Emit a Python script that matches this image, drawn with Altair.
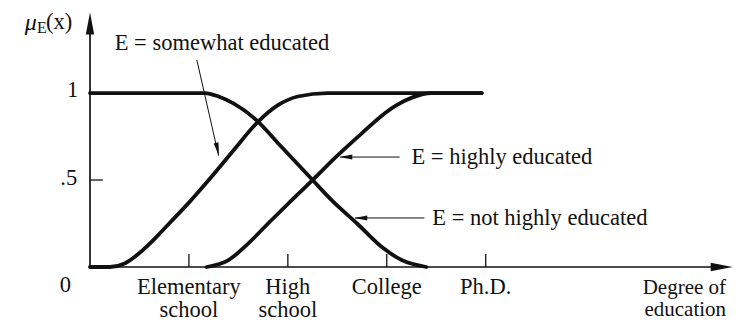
import altair as alt
import pandas as pd

# ---- membership curves (x: degree of education, 1=Elementary ... 4=Ph.D.) ----
SOMEWHAT_X = [0.0, 0.2, 0.35, 0.5, 0.65, 0.8, 1.0, 1.2, 1.45, 1.69, 1.9, 2.1, 2.4, 3.96]
SOMEWHAT_Y = [0.0, 0.0, 0.02, 0.08, 0.16, 0.25, 0.37, 0.5, 0.67, 0.83, 0.93, 0.98, 1.0, 1.0]

HIGHLY_X = [1.18, 1.4, 1.59, 1.8, 2.05, 2.25, 2.5, 2.75, 2.95, 3.1, 3.26, 3.45, 3.96]
HIGHLY_Y = [0.0, 0.04, 0.13, 0.25, 0.39, 0.5, 0.64, 0.77, 0.87, 0.93, 0.975, 1.0, 1.0]

NOT_HIGHLY_X = [0.0, 1.16, 1.3, 1.45, 1.69, 1.92, 2.25, 2.45, 2.7, 2.96, 3.15, 3.4]
NOT_HIGHLY_Y = [1.0, 1.0, 0.98, 0.94, 0.84, 0.70, 0.5, 0.38, 0.25, 0.11, 0.04, 0.0]

# ---- axis ticks and labels ----
X_TICKS = [1, 2, 3, 4]
X_LABEL_LINE1 = ["Elementary", "High", "College", "Ph.D."]
X_LABEL_LINE2 = ["school", "school", "", ""]
Y_TICKS = [0.5]
Y_LABELS = ["1", ".5"]
Y_LABEL_VALUES = [1.02, 0.51]

# ---- annotations ----
ANNOT_TEXT = ["E = somewhat educated", "E = highly educated", "E = not highly educated"]
ANNOT_TEXT_X = [0.25, 3.25, 3.46]
ANNOT_TEXT_Y = [1.29, 0.632, 0.282]
ARROW_START_X = [1.08, 3.13, 3.38]
ARROW_START_Y = [1.19, 0.632, 0.282]
ARROW_TIP_X = [1.30, 2.53, 2.68]
ARROW_TIP_Y = [0.64, 0.632, 0.282]
ARROW_HEAD_X = [1.289, 2.586, 2.737]
ARROW_HEAD_Y = [0.677, 0.632, 0.282]
ARROW_HEAD_ANGLE = [167, 270, 270]

FONT = "Liberation Serif, Times New Roman, serif"
FS = 22.5
BLACK = "#111111"

xs = alt.Scale(domain=[0, 6.5], nice=False, zero=False)
ys = alt.Scale(domain=[0, 1.46], nice=False, zero=False)


def X(f):
    return alt.X(f, type="quantitative", scale=xs, axis=None)


def Y(f):
    return alt.Y(f, type="quantitative", scale=ys, axis=None)


rows = []
for name, xv, yv in [("somewhat", SOMEWHAT_X, SOMEWHAT_Y),
                     ("highly", HIGHLY_X, HIGHLY_Y),
                     ("not highly", NOT_HIGHLY_X, NOT_HIGHLY_Y)]:
    for i, (a, b) in enumerate(zip(xv, yv)):
        rows.append({"series": name, "x": a, "y": b, "i": i})
curves_df = pd.DataFrame(rows)

curves = alt.Chart(curves_df).mark_line(
    color=BLACK, strokeWidth=3.8, interpolate="monotone", strokeCap="round"
).encode(X("x"), Y("y"), detail="series:N", order="i:Q")

# axes lines
axes_df = pd.DataFrame({"x": [0, 0], "y": [0, 0], "x2": [0, 6.40], "y2": [1.40, 0]})
axes = alt.Chart(axes_df).mark_rule(color=BLACK, strokeWidth=1.7).encode(
    X("x"), Y("y"), x2="x2:Q", y2="y2:Q")

# axis arrowheads
ARROW_PATH = "M0,-1L0.38,1L-0.38,1Z"
axis_heads_df = pd.DataFrame({"x": [0, 6.385], "y": [1.40, 0], "angle": [0, 90]})
axis_heads = alt.Chart(axis_heads_df).mark_point(
    shape=ARROW_PATH, filled=True, color=BLACK, size=480, opacity=1
).encode(X("x"), Y("y"), angle=alt.Angle("angle:Q", scale=None))

# ticks
xt_df = pd.DataFrame({"x": X_TICKS, "y": [0] * 4, "y2": [0.075] * 4})
xticks = alt.Chart(xt_df).mark_rule(color=BLACK, strokeWidth=1.3).encode(
    X("x"), Y("y"), y2="y2:Q")
yt_df = pd.DataFrame({"x": [0], "x2": [0.13], "y": Y_TICKS})
yticks = alt.Chart(yt_df).mark_rule(color=BLACK, strokeWidth=1.3).encode(
    X("x"), Y("y"), x2="x2:Q")

# tick labels
xl_df = pd.DataFrame({"x": X_TICKS, "l1": X_LABEL_LINE1, "l2": X_LABEL_LINE2})
xl1 = alt.Chart(xl_df).mark_text(font=FONT, fontSize=FS, color=BLACK, baseline="middle").encode(
    X("x"), y=alt.Y(datum=-0.115, scale=ys, axis=None), text="l1:N")
xl2 = alt.Chart(xl_df).mark_text(font=FONT, fontSize=FS, color=BLACK, baseline="middle").encode(
    X("x"), y=alt.Y(datum=-0.245, scale=ys, axis=None), text="l2:N")

zero_df = pd.DataFrame({"x": [-0.25], "y": [-0.105], "t": ["0"]})
zero = alt.Chart(zero_df).mark_text(font=FONT, fontSize=FS, color=BLACK, baseline="middle").encode(
    X("x"), Y("y"), text="t:N")

yl_df = pd.DataFrame({"x": [-0.12, -0.13], "y": Y_LABEL_VALUES, "t": Y_LABELS})
ylabels = alt.Chart(yl_df).mark_text(font=FONT, fontSize=FS, color=BLACK, baseline="middle", align="right").encode(
    X("x"), Y("y"), text="t:N")

deg_df = pd.DataFrame({"x": [6.43, 6.43], "y": [-0.122, -0.25], "t": ["Degree of", "education"]})
deg = alt.Chart(deg_df).mark_text(font=FONT, fontSize=21, color=BLACK, baseline="middle", align="right").encode(
    X("x"), Y("y"), text="t:N")

# y-axis title  mu_E(x)
mu = alt.Chart(pd.DataFrame({"x": [-0.66], "y": [1.405], "t": ["\u03bc"]})).mark_text(
    font=FONT, fontSize=24, fontStyle="italic", color=BLACK, baseline="middle", align="left"
).encode(X("x"), Y("y"), text="t:N")
mu_sub = alt.Chart(pd.DataFrame({"x": [-0.535], "y": [1.372], "t": ["E"]})).mark_text(
    font=FONT, fontSize=16, color=BLACK, baseline="middle", align="left"
).encode(X("x"), Y("y"), text="t:N")
mu_arg = alt.Chart(pd.DataFrame({"x": [-0.445], "y": [1.41], "t": ["(x)"]})).mark_text(
    font=FONT, fontSize=FS, color=BLACK, baseline="middle", align="left"
).encode(X("x"), Y("y"), text="t:N")

# annotations
an_df = pd.DataFrame({
    "t": ANNOT_TEXT, "tx": ANNOT_TEXT_X, "ty": ANNOT_TEXT_Y,
    "sx": ARROW_START_X, "sy": ARROW_START_Y, "ex": ARROW_TIP_X, "ey": ARROW_TIP_Y,
    "hx": ARROW_HEAD_X, "hy": ARROW_HEAD_Y, "ha": ARROW_HEAD_ANGLE,
})
an_text = alt.Chart(an_df).mark_text(font=FONT, fontSize=FS, color=BLACK, baseline="middle", align="left").encode(
    X("tx"), Y("ty"), text="t:N")
an_lines = alt.Chart(an_df).mark_rule(color=BLACK, strokeWidth=1.0).encode(
    X("sx"), Y("sy"), x2="ex:Q", y2="ey:Q")
an_heads = alt.Chart(an_df).mark_point(
    shape=ARROW_PATH, filled=True, color=BLACK, size=170, opacity=1
).encode(X("hx"), Y("hy"), angle=alt.Angle("ha:Q", scale=None))

chart = alt.layer(
    axes, axis_heads, xticks, yticks, curves, an_lines, an_heads,
    xl1, xl2, zero, ylabels, deg, mu, mu_sub, mu_arg, an_text
).properties(
    width=643, height=254,
    autosize=alt.AutoSizeParams(type="none"),
    padding={"left": 82, "top": 5, "right": 4, "bottom": 54},
    background="white",
).configure_view(stroke=None)

chart.save("out.html", embed_options={"renderer": "svg", "actions": False})
